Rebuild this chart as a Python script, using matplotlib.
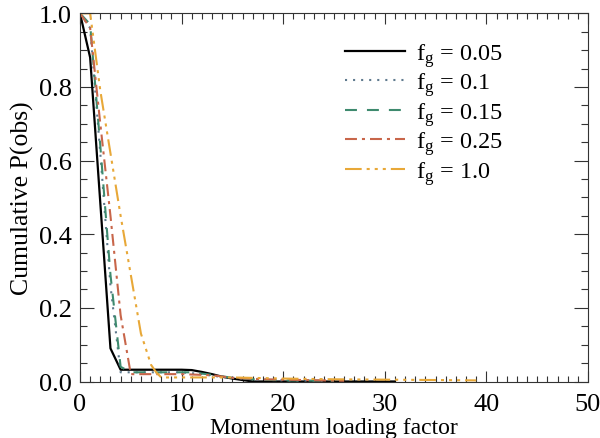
import matplotlib
matplotlib.use("Agg")
import matplotlib.pyplot as plt
from matplotlib.ticker import MultipleLocator

plt.rcParams['font.family'] = ['Liberation Serif', 'DejaVu Serif']
plt.rcParams['mathtext.fontset'] = 'custom'
plt.rcParams['mathtext.rm'] = 'Liberation Serif'
plt.rcParams['mathtext.it'] = 'Liberation Serif:italic'
plt.rcParams['lines.scale_dashes'] = False

# ---- data ----
labels = ["0.05", "0.1", "0.15", "0.25", "1.0"]

x_005 = [0, 1, 3, 4, 10, 11, 12, 13, 14, 15, 16, 17, 31]
y_005 = [1.0, 0.88, 0.09, 0.032, 0.032, 0.031, 0.026, 0.02, 0.013, 0.008, 0.004, 0.0, 0.0]

x_01 = [0, 1, 2, 3, 4, 10, 12, 14, 17, 20, 24]
y_01 = [1.0, 0.96, 0.62, 0.26, 0.025, 0.025, 0.02, 0.012, 0.006, 0.003, 0.002]

x_015 = [0, 1, 2, 3, 4, 5, 11, 13, 15, 17, 20, 25]
y_015 = [1.0, 0.97, 0.64, 0.29, 0.04, 0.025, 0.025, 0.018, 0.01, 0.006, 0.003, 0.002]

x_025 = [0, 1, 2, 3, 4, 5, 10, 13, 15, 18, 22, 26]
y_025 = [1.0, 0.96, 0.70, 0.45, 0.18, 0.02, 0.02, 0.017, 0.01, 0.006, 0.004, 0.002]

x_10 = [0, 1, 2, 3, 4, 5, 6, 7, 7.5, 8, 15, 20, 25, 30, 35, 39]
y_10 = [1.0, 1.0, 0.79, 0.62, 0.45, 0.29, 0.13, 0.045, 0.025, 0.011, 0.011, 0.008, 0.006, 0.005, 0.004, 0.003]

series = [(x_005, y_005), (x_01, y_01), (x_015, y_015), (x_025, y_025), (x_10, y_10)]
colors = ["#000000", "#5f7a8e", "#3e8a6e", "#c8664a", "#e8a838"]
styles = ["-",
          (0, (1.5, 4.3)),
          (0, (8.6, 7.2)),
          (0, (8.6, 3.6, 2.2, 3.6)),
          (0, (12, 3.6, 2.2, 3.6, 2.2, 3.6, 2.2, 3.6))]
widths = [1.6, 1.5, 1.5, 1.5, 1.5]

fig = plt.figure(figsize=(6.0, 4.39), dpi=100)
ax = fig.add_axes([0.1333, 0.1287, 0.98 - 0.1333, 0.9674 - 0.1287])

for (xs, ys), lab, c, ls, lw in zip(series, labels, colors, styles, widths):
    ax.plot(xs, ys, color=c, linestyle=ls, linewidth=lw,
            label=r"f$_\mathregular{g}$ = " + lab)

ax.set_xlim(0, 50)
ax.set_ylim(0, 1.0)
ax.xaxis.set_major_locator(MultipleLocator(10))
ax.xaxis.set_minor_locator(MultipleLocator(1))
ax.yaxis.set_major_locator(MultipleLocator(0.2))
ax.yaxis.set_minor_locator(MultipleLocator(0.05))
ax.tick_params(which='both', direction='in', top=True, right=True,
               labelsize=19, width=0.8, color='#333333')
ax.tick_params(axis='x', which='major', length=8, pad=8)
ax.tick_params(axis='x', which='minor', length=4)
ax.tick_params(axis='y', which='major', length=10, pad=6)
ax.tick_params(axis='y', which='minor', length=5)
ax.set_yticks([0, 0.2, 0.4, 0.6, 0.8, 1.0])
ax.set_yticklabels(["0.0", "0.2", "0.4", "0.6", "0.8", "1.0"])
for s in ax.spines.values():
    s.set_linewidth(0.8)
    s.set_color('#333333')

ax.set_xlabel("Momentum loading factor", fontsize=17, labelpad=2)
ax.set_ylabel("Cumulative P(obs)", fontsize=18.5, labelpad=3)

ax.legend(loc='upper left', bbox_to_anchor=(0.575, 0.905),
          bbox_transform=fig.transFigure, frameon=False, fontsize=17.5,
          handlelength=2.47, handletextpad=0.45, labelspacing=0.07,
          borderpad=0, borderaxespad=0)

fig.savefig("out.png", dpi=100)
